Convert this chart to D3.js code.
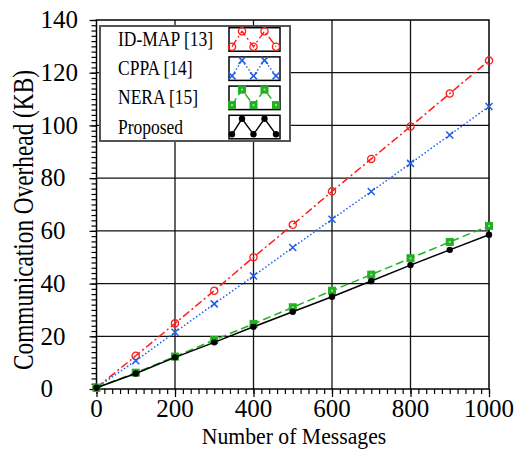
<!DOCTYPE html>
<html><head><meta charset="utf-8">
<script src="https://d3js.org/d3.v7.min.js"></script>
<style>body{margin:0;background:#fff}svg{display:block}svg text{font-family:'Liberation Serif','Times New Roman','DejaVu Serif',serif !important;fill:#000}</style>
</head><body><svg id="c" width="514" height="449"></svg>
<script>
const messages = [0,100,200,300,400,500,600,700,800,900,1000];
const idmap    = [0.5,12.6,24.9,37.3,50.0,62.3,75.0,87.3,99.6,112.1,124.6];
const cppa     = [0.5,10.7,21.5,32.3,42.9,53.7,64.4,74.9,85.6,96.4,107.2];
const nera     = [0.5,6.2,12.3,18.6,24.7,31.0,37.3,43.4,49.6,55.8,61.9];
const proposed = [0.5,5.9,12.0,17.7,23.6,29.3,35.0,41.0,47.0,52.8,58.5];
const xTicks = [0,200,400,600,800,1000];
const yTicks = [0,20,40,60,80,100,120,140];
const seriesNames = ["ID-MAP [13]","CPPA [14]","NERA [15]","Proposed"];
const xLabel = "Number of Messages";
const yLabel = "Communication Overhead (KB)";
const FONT = "'Liberation Serif','Times New Roman','DejaVu Serif',serif";

const svg = d3.select("#c");
const L=96.5, R=489, T=20, B=389;
const x = d3.scaleLinear().domain([0,1000]).range([L,R]);
const y = d3.scaleLinear().domain([0,140]).range([B,T]);

// grid
const g = svg.append("g");
g.selectAll(".gx").data(xTicks.slice(1,-1)).join("line")
 .attr("x1",d=>x(d)).attr("x2",d=>x(d)).attr("y1",T).attr("y2",B)
 .attr("stroke","#111").attr("stroke-width",1.3);
g.selectAll(".gy").data(yTicks.slice(1,-1)).join("line")
 .attr("y1",d=>y(d)).attr("y2",d=>y(d)).attr("x1",L).attr("x2",R)
 .attr("stroke","#111").attr("stroke-width",1.3);

// axes (ticks only; labels placed explicitly)
const xAxis = d3.axisBottom(x).tickValues(xTicks).tickSize(8).tickFormat("");
const xMinor = d3.axisBottom(x).tickValues(d3.range(0,1001,20)).tickSize(5).tickFormat("");
const yAxis = d3.axisLeft(y).tickValues(yTicks).tickSize(7).tickFormat("");
const yMinor = d3.axisLeft(y).tickValues(d3.range(0,141,2)).tickSize(5).tickFormat("");
svg.append("g").attr("transform",`translate(0,${B})`).call(xMinor);
svg.append("g").attr("transform",`translate(0,${B})`).call(xAxis);
svg.append("g").attr("transform",`translate(${L},0)`).call(yMinor);
svg.append("g").attr("transform",`translate(${L},0)`).call(yAxis);
svg.selectAll(".tick line").attr("stroke","#000").attr("stroke-width",1.2);
svg.selectAll(".domain").remove();

const lbl = svg.append("g").attr("font-family",FONT).style("font-family",FONT);
lbl.selectAll(".xl").data(xTicks).join("text")
 .attr("x",d=>x(d)).attr("y",416.8).attr("text-anchor","middle").attr("font-size",25).text(d=>d);
lbl.selectAll(".yl").data(yTicks).join("text")
 .attr("x",40.5).attr("y",d=>y(d)+8.3).attr("font-size",25).text(d=>d);

// frame
svg.append("rect").attr("x",L).attr("y",T).attr("width",R-L).attr("height",B-T)
 .attr("fill","none").attr("stroke","#000").attr("stroke-width",1.5);

// titles (condensed serif, as in the reference)
lbl.append("text").attr("transform",`translate(294,443.6) scale(0.905,1)`).attr("text-anchor","middle").attr("font-size",24).text(xLabel);
lbl.append("text").attr("transform",`translate(33,220) rotate(-90) scale(0.776,1)`).attr("text-anchor","middle").attr("font-size",30).text(yLabel);

// series
const styles = [
 {data:idmap, color:"#ff1a1a", dash:"8,3,2,3", marker:"circle"},
 {data:cppa, color:"#1f5fe6", dash:"1.5,2.2", marker:"x"},
 {data:nera, color:"#22b022", dash:"8,4", marker:"square"},
 {data:proposed, color:"#000", dash:null, marker:"dot"}
];
function drawMarker(sel, type, color){
 if(type==="circle") sel.append("circle").attr("r",3.6).attr("fill","none").attr("stroke",color).attr("stroke-width",1.3);
 if(type==="x") sel.append("path").attr("d","M-3.5,-3.5L3.5,3.5M-3.5,3.5L3.5,-3.5").attr("stroke",color).attr("stroke-width",1.5);
 if(type==="square"){ sel.append("rect").attr("x",-3.5).attr("y",-3.5).attr("width",7).attr("height",7).attr("fill",color).attr("stroke",color).attr("stroke-width",1);
   sel.append("rect").attr("x",-1).attr("y",-1).attr("width",2).attr("height",2).attr("fill","#9d9");}
 if(type==="dot") sel.append("circle").attr("r",3.2).attr("fill",color);
}
const line = d3.line().x((d,i)=>x(messages[i])).y(d=>y(d));
styles.forEach(s=>{
 svg.append("path").attr("d",line(s.data)).attr("fill","none").attr("stroke",s.color)
  .attr("stroke-width",1.5).attr("stroke-dasharray",s.dash);
 s.data.forEach((v,i)=>{
  const m = svg.append("g").attr("transform",`translate(${x(messages[i])},${y(v)})`);
  drawMarker(m,s.marker,s.color);
 });
});

// legend
const lg = svg.append("g");
lg.append("rect").attr("x",100).attr("y",26).attr("width",190).attr("height",115)
 .attr("fill","#fff").attr("stroke","#555").attr("stroke-width",2);
styles.forEach((s,i)=>{
 const y0 = 27.7 + i*29.2;
 lg.append("text").attr("transform",`translate(118,${y0+18.3}) scale(0.845,1)`).attr("font-family",FONT).style("font-family",FONT)
  .attr("font-size",20.7).text(seriesNames[i]);
 lg.append("rect").attr("x",229).attr("y",y0).attr("width",51).attr("height",23.5)
  .attr("fill","#fff").attr("stroke","#000").attr("stroke-width",1.5);
 const xs=[232,242,253.5,264.5,276], ys=[1,0,1,0,1].map(k=>k? y0+19: y0+3.5);
 lg.append("path").attr("d",d3.line()(xs.map((xx,j)=>[xx,ys[j]]))).attr("fill","none")
  .attr("stroke",s.color).attr("stroke-width",1.4).attr("stroke-dasharray",s.dash);
 xs.forEach((xx,j)=>{ const m=lg.append("g").attr("transform",`translate(${xx},${ys[j]})`); drawMarker(m,s.marker,s.color); });
});
</script></body></html>
